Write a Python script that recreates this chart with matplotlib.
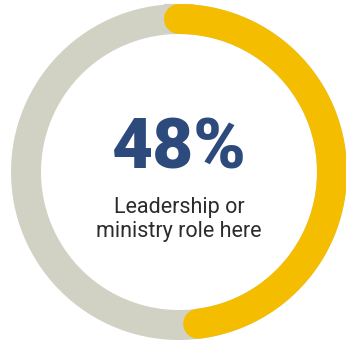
import numpy as np
import matplotlib.pyplot as plt

share = 48          # percent
value_label = "48%"
caption = ["Leadership or", "ministry role here"]

ring_color = "#D1D2C4"
share_color = "#F4BD00"
value_color = "#2D4A7C"
text_color = "#2B2B2B"


def main():
    fig = plt.figure(figsize=(3.46, 3.41), dpi=100)
    ax = fig.add_axes([0, 0, 1, 1])
    ax.set_xlim(0, 346)
    ax.set_ylim(341, 0)
    ax.set_aspect("equal")
    ax.axis("off")

    cx, cy, r = 179, 172, 153
    lw = 30 * 72 / 100

    # full background ring
    t = np.linspace(0, 2 * np.pi, 400)
    ax.plot(cx + r * np.sin(t), cy - r * np.cos(t), color=ring_color, lw=lw)

    # highlighted share, clockwise from the top
    t = np.linspace(0, 2 * np.pi * share / 100, 300)
    ax.plot(cx + r * np.sin(t), cy - r * np.cos(t), color=share_color, lw=lw,
            solid_capstyle="round")

    ax.text(cx, 149, value_label, ha="center", va="center", fontsize=51,
            fontweight="black", family="Roboto", color=value_color)
    ax.text(cx, 208, caption[0], ha="center", va="center", fontsize=15.5,
            family="Roboto", color=text_color)
    ax.text(cx, 232, caption[1], ha="center", va="center", fontsize=15.5,
            family="Roboto", color=text_color)

    fig.savefig("out.png", dpi=100)


if __name__ == "__main__":
    main()
